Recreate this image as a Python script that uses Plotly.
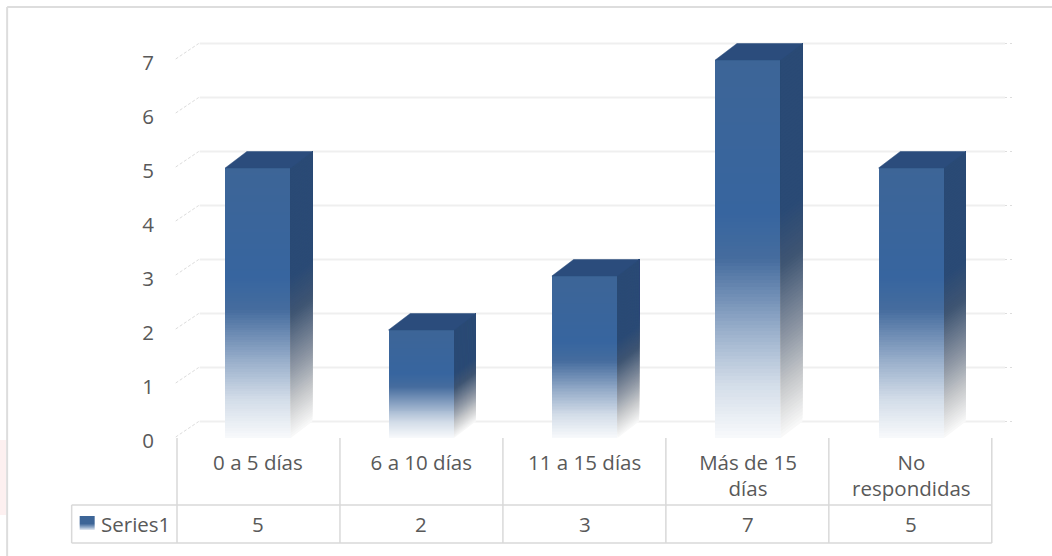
import plotly.graph_objects as go

categories = ["0 a 5 días", "6 a 10 días", "11 a 15 días", "Más de 15<br>días", "No<br>respondidas"]
series_name = "Series1"
values = [5, 2, 3, 7, 5]
y_ticks = [0, 1, 2, 3, 4, 5, 6, 7]

W, H = 1052, 556
LEFT, RIGHT, TOP, BOTTOM = 177.3, 1017.0, 36.0, 438.0
X_UNIT = 163.3
X_FIRST = 258.2
TABLE_UNIT = 162.9
Y_UNIT = 54.0
DX = 21.7 / X_UNIT
DY = 16.5 / Y_UNIT
BAR_W = 65.5 / X_UNIT
TEXT = "#595959"
FONT = "Open Sans"
FSIZE = 20.5
GRID = "#efefef"
TABLE = "#d9d9d9"

FRONT_STOPS = [(0, "#3D6597"), (.41, "#37659F"), (.53, "#456C9E"), (.73, "#9DB2CD"), (.86, "#D2DCE8"), (1, "#F7F9FB")]
SIDE_STOPS = [(0, "#2A4A75"), (.41, "#2A4A75"), (.55, "#3F5573"), (.75, "#8F98A5"), (.88, "#C9CBCD"), (1, "#F8F8F8")]
TOP_COLOR = "#2B4C7C"


def blend(stops, t):
    for (t0, c0), (t1, c1) in zip(stops, stops[1:]):
        if t <= t1:
            f = (t - t0) / (t1 - t0)
            a = [int(c0[i:i + 2], 16) for i in (1, 3, 5)]
            b = [int(c1[i:i + 2], 16) for i in (1, 3, 5)]
            return "#%02X%02X%02X" % tuple(round(p + (q - p) * f) for p, q in zip(a, b))
    return stops[-1][1]


def px(x):
    return (x - LEFT) / (RIGHT - LEFT)


def py(y):
    return (BOTTOM - y) / (BOTTOM - TOP)


xs = list(range(len(values)))
fig = go.Figure()

# Gradient faces: nested from the bar top down to each level, painted bottom level first
N = 110
for i in range(N, 0, -1):
    t = i / N
    c = blend(FRONT_STOPS, t)
    fig.add_bar(
        x=xs, y=[v * t for v in values], base=[v * (1 - t) for v in values],
        width=BAR_W, marker=dict(color=c, line=dict(width=0)),
        showlegend=False, hoverinfo="skip",
    )
    side_c = blend(SIDE_STOPS, t)
    sx, sy = [], []
    for k, v in zip(xs, values):
        r = k + BAR_W / 2
        lo = v * (1 - t)
        sx += [r, r + DX, r + DX, r, r, None]
        sy += [lo, lo + DY, v + DY, v, lo, None]
    fig.add_scatter(x=sx, y=sy, mode="lines", fill="toself", fillcolor=side_c,
                    line=dict(color=side_c, width=0), showlegend=False, hoverinfo="skip")

tx, ty = [], []
for k, v in zip(xs, values):
    l, r = k - BAR_W / 2, k + BAR_W / 2
    tx += [l, r, r + DX, l + DX, l, None]
    ty += [v, v, v + DY, v + DY, v, None]
fig.add_scatter(x=tx, y=ty, mode="lines", fill="toself", fillcolor=TOP_COLOR,
                line=dict(color=TOP_COLOR, width=0.5), showlegend=False, hoverinfo="skip")

shapes = []
# Back wall gridlines and dashed side wall
for t in y_ticks:
    back = BOTTOM - t * Y_UNIT - 16.5
    front = BOTTOM - t * Y_UNIT
    shapes.append(dict(type="line", layer="below", xref="paper", yref="paper",
                       x0=px(200), x1=px(1005), y0=py(back), y1=py(back),
                       line=dict(color=GRID, width=1.8)))
    shapes.append(dict(type="line", layer="below", xref="paper", yref="paper",
                       x0=px(1005), x1=px(1015), y0=py(back), y1=py(back),
                       line=dict(color="#dddddd", width=1.2, dash="2px,3px")))
    shapes.append(dict(type="line", layer="below", xref="paper", yref="paper",
                       x0=px(176), x1=px(199), y0=py(front - 1), y1=py(back),
                       line=dict(color="#dcdcdc", width=1, dash="3px,2px")))

# Data table rules
for k in range(len(values) + 1):
    xp = LEFT + k * TABLE_UNIT
    shapes.append(dict(type="line", xref="paper", yref="paper", x0=px(xp), x1=px(xp),
                       y0=py(438), y1=py(543), line=dict(color=TABLE, width=1.5)))
for yp in (505, 543):
    shapes.append(dict(type="line", xref="paper", yref="paper", x0=px(72), x1=px(LEFT + 5 * TABLE_UNIT),
                       y0=py(yp), y1=py(yp), line=dict(color=TABLE, width=1.5)))
shapes.append(dict(type="line", xref="paper", yref="paper", x0=px(72), x1=px(72),
                   y0=py(505), y1=py(543), line=dict(color=TABLE, width=1.5)))

# Outer frame (runs off the right and bottom edges)
shapes.append(dict(type="line", xref="paper", yref="paper", x0=px(7.5), x1=px(W), y0=py(7), y1=py(7),
                   line=dict(color="#dddddd", width=2)))
shapes.append(dict(type="line", xref="paper", yref="paper", x0=px(7.5), x1=px(7.5), y0=py(7), y1=py(H),
                   line=dict(color="#dddddd", width=2)))
# Faint pink smudge left of the frame
shapes.append(dict(type="rect", layer="below", xref="paper", yref="paper", x0=px(0), x1=px(6.5),
                   y0=py(440), y1=py(515), line=dict(width=0), fillcolor="#FDF0F0"))

# Legend key gradient
KN = 14
for i in range(KN):
    c = blend([(0, "#3D6597"), (.55, "#3D6597"), (.8, "#8FA8C8"), (1, "#E4EAF2")], (i + .5) / KN)
    y0 = 516 + i
    shapes.append(dict(type="rect", xref="paper", yref="paper", x0=px(80), x1=px(95),
                       y0=py(y0), y1=py(y0 + 1), line=dict(width=0), fillcolor=c))

annotations = [
    dict(x=k, y=py(523.5), xref="x", yref="paper", yanchor="middle", text=str(v), showarrow=False,
         font=dict(family=FONT, size=FSIZE, color=TEXT))
    for k, v in zip(xs, values)
]
annotations.append(dict(x=px(99), y=py(523.5), xref="paper", yref="paper", yanchor="middle", text=series_name,
                        showarrow=False, xanchor="left", font=dict(family=FONT, size=FSIZE, color=TEXT)))

fig.update_layout(
    width=W, height=H, autosize=False,
    margin=dict(l=LEFT, r=W - RIGHT, t=TOP, b=H - BOTTOM, pad=0, autoexpand=False),
    paper_bgcolor="white", plot_bgcolor="rgba(0,0,0,0)",
    barmode="overlay", bargap=0, showlegend=False,
    shapes=shapes, annotations=annotations,
    font=dict(family=FONT, size=FSIZE, color=TEXT),
    xaxis=dict(
        range=[(LEFT - X_FIRST) / X_UNIT, (RIGHT - X_FIRST) / X_UNIT], tickmode="array", tickvals=xs,
        ticktext=categories, showgrid=False, zeroline=False, showline=False, ticks="", ticklabelstandoff=10,
        tickangle=0, tickfont=dict(family=FONT, size=FSIZE, color=TEXT), fixedrange=True,
    ),
    yaxis=dict(
        range=[0, (BOTTOM - TOP) / Y_UNIT], tickmode="array", tickvals=y_ticks,
        ticktext=[str(t) for t in y_ticks], showgrid=False, zeroline=False, showline=False,
        ticks="", ticklabelstandoff=22, ticklabelshift=3,
        tickfont=dict(family=FONT, size=FSIZE, color=TEXT), fixedrange=True,
    ),
)

fig.write_html("out.html", config=dict(displayModeBar=False),
               post_script="document.body.style.margin='0';document.documentElement.style.overflow='hidden';")
